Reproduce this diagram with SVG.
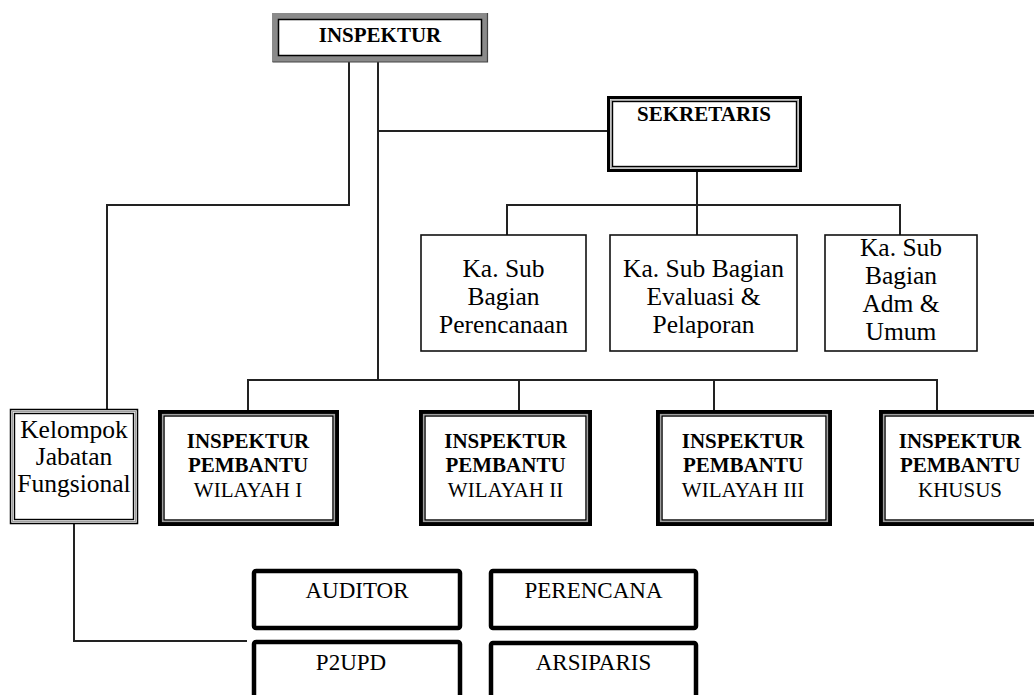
<svg xmlns="http://www.w3.org/2000/svg" width="1034" height="695" viewBox="0 0 1034 695">
<style>
text{font-family:"Liberation Serif","Times New Roman",serif;fill:#000;text-anchor:middle}
.b{font-weight:bold;font-size:21px}
.n21{font-size:21px}
.n24{font-size:25.5px}
.n23{font-size:23px}
.con{fill:none;stroke:#222;stroke-width:2}
.o4{fill:#fff;stroke:#000;stroke-width:4}
.g1{fill:none;stroke:#a0a0a0;stroke-width:1.2}
.i1{fill:none;stroke:#000;stroke-width:1.4}
.single{fill:#fff;stroke:#111;stroke-width:1.6}
.thick{fill:#fff;stroke:#000;stroke-width:4.5;stroke-linejoin:round}
</style>
<rect width="1034" height="695" fill="#fff"/>
<g id="connectors">
<polyline class="con" points="378,62 378,380"/>
<polyline class="con" points="378,131 607,131"/>
<polyline class="con" points="349,62 349,205 107,205 107,409"/>
<polyline class="con" points="697,172 697,235"/>
<polyline class="con" points="507,235 507,205 900,205 900,235"/>
<polyline class="con" points="248,410 248,380 937,380 937,410"/>
<polyline class="con" points="519,380 519,410"/>
<polyline class="con" points="714,380 714,410"/>
<polyline class="con" points="74,524 74,641 247,641"/>
</g>
<g id="inspektur">
<rect x="275" y="16" width="210" height="43" fill="#fff" stroke="#8a8a8a" stroke-width="6"/>
<rect x="278.5" y="19.5" width="203" height="36" fill="#fff" stroke="#000" stroke-width="1.5"/>
<polyline points="272.5,62 487.5,62 487.5,13" fill="none" stroke="#444" stroke-width="1.2"/>
<text class="b" x="380" y="42">INSPEKTUR</text>
</g>
<g id="sekretaris">
<rect x="608.5" y="97.5" width="192" height="73" fill="#fff" stroke="#000" stroke-width="3"/>
<rect x="611" y="100" width="187" height="68" class="g1"/>
<rect x="612.5" y="101.5" width="184" height="65" class="i1"/>
<text class="b" x="704" y="121">SEKRETARIS</text>
</g>
<g id="sub-perencanaan">
<rect x="421" y="235" width="165" height="116" class="single"/>
<text class="n24" x="503.5" y="277">Ka. Sub</text>
<text class="n24" x="503.5" y="305">Bagian</text>
<text class="n24" x="503.5" y="333">Perencanaan</text>
</g>
<g id="sub-evaluasi">
<rect x="610" y="235" width="187" height="116" class="single"/>
<text class="n24" x="703.5" y="277">Ka. Sub Bagian</text>
<text class="n24" x="703.5" y="305">Evaluasi &amp;</text>
<text class="n24" x="703.5" y="333">Pelaporan</text>
</g>
<g id="sub-adm">
<rect x="825" y="235" width="152" height="116" class="single"/>
<text class="n24" x="901" y="256">Ka. Sub</text>
<text class="n24" x="901" y="284">Bagian</text>
<text class="n24" x="901" y="312">Adm &amp;</text>
<text class="n24" x="901" y="340">Umum</text>
</g>
<g id="kelompok">
<rect x="10.5" y="409.5" width="127" height="114" fill="#fff" stroke="#000" stroke-width="1.5"/>
<rect x="12.5" y="411.5" width="123" height="110" class="g1"/>
<rect x="14.5" y="413.5" width="119" height="106" class="i1"/>
<text class="n24" x="74" y="438">Kelompok</text>
<text class="n24" x="74" y="465">Jabatan</text>
<text class="n24" x="74" y="492">Fungsional</text>
</g>
<g id="ip-wilayah1">
<rect x="160" y="412" width="177" height="112" class="o4"/>
<rect x="162.5" y="414.5" width="172" height="107" class="g1"/>
<rect x="164" y="416" width="169" height="104" class="i1"/>
<text class="b" x="248" y="448">INSPEKTUR</text>
<text class="b" x="248" y="472">PEMBANTU</text>
<text class="n21" x="248" y="497">WILAYAH I</text>
</g>
<g id="ip-wilayah2">
<rect x="421" y="412" width="169" height="112" class="o4"/>
<rect x="423.5" y="414.5" width="164" height="107" class="g1"/>
<rect x="425" y="416" width="161" height="104" class="i1"/>
<text class="b" x="505.5" y="448">INSPEKTUR</text>
<text class="b" x="505.5" y="472">PEMBANTU</text>
<text class="n21" x="505.5" y="497">WILAYAH II</text>
</g>
<g id="ip-wilayah3">
<rect x="658" y="412" width="172" height="112" class="o4"/>
<rect x="660.5" y="414.5" width="167" height="107" class="g1"/>
<rect x="662" y="416" width="164" height="104" class="i1"/>
<text class="b" x="743" y="448">INSPEKTUR</text>
<text class="b" x="743" y="472">PEMBANTU</text>
<text class="n21" x="743" y="497">WILAYAH III</text>
</g>
<g id="ip-khusus">
<rect x="881" y="412" width="158" height="112" class="o4"/>
<rect x="883.5" y="414.5" width="153" height="107" class="g1"/>
<rect x="885" y="416" width="150" height="104" class="i1"/>
<text class="b" x="960" y="448">INSPEKTUR</text>
<text class="b" x="960" y="472">PEMBANTU</text>
<text class="n21" x="960" y="497">KHUSUS</text>
</g>
<g id="auditor">
<rect x="254" y="571" width="206" height="57" rx="2" class="thick"/>
<text class="n23" x="357" y="598">AUDITOR</text>
</g>
<g id="perencana">
<rect x="491" y="571" width="205" height="57" rx="2" class="thick"/>
<text class="n23" x="593.5" y="598">PERENCANA</text>
</g>
<g id="p2upd">
<rect x="254" y="642" width="206" height="60" rx="2" class="thick"/>
<text class="n23" x="351" y="670">P2UPD</text>
</g>
<g id="arsiparis">
<rect x="491" y="643" width="205" height="60" rx="2" class="thick"/>
<text class="n23" x="593.5" y="670">ARSIPARIS</text>
</g>
</svg>
